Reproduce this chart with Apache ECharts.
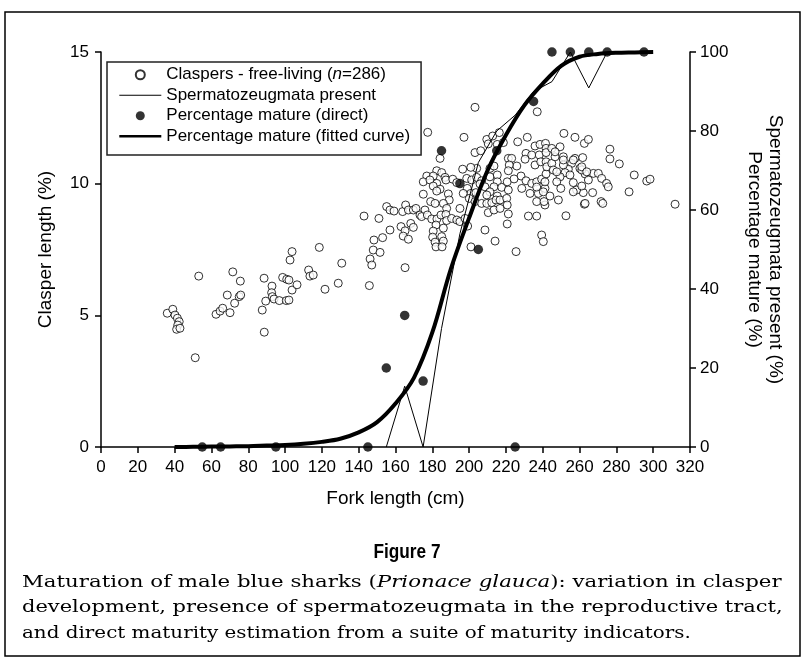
<!DOCTYPE html>
<html>
<head>
<meta charset="utf-8">
<script src="https://cdn.jsdelivr.net/npm/echarts@6/dist/echarts.min.js"></script>
<style>
  html, body { margin: 0; padding: 0; background: #fff; }
  #chart { width: 812px; height: 669px; }
</style>
</head>
<body>
<div id="chart"></div>
<script>
// Clasper length (% of fork length) against fork length (cm), free-living males
const claspers = [
  [36.0,5.08],[39.0,5.23],[40.2,5.01],[41.5,4.89],[42.5,4.76],[41.7,4.63],[41.1,4.47],[42.9,4.51],
  [51.2,3.39],[53.1,6.49],[62.5,5.04],[64.7,5.16],[66.1,5.27],[70.1,5.10],[68.6,5.77],[71.6,6.65],
  [72.6,5.46],[75.1,5.71],[75.9,5.77],[75.7,6.30],[87.6,5.20],[88.7,4.36],[89.5,5.54],[88.6,6.41],
  [92.9,6.11],[92.7,5.86],[93.1,5.71],[94.0,5.62],[96.9,5.56],[98.7,6.44],[100.9,6.37],[102.1,6.34],
  [100.7,5.56],[102.1,5.58],[103.8,5.96],[106.5,6.16],[102.7,7.10],[103.8,7.42],[112.8,6.72],[113.5,6.49],
  [115.3,6.53],
  [118.6,7.58],[130.8,6.98],[142.9,8.77],[151.0,8.68],[155.2,9.13],[157.0,9.00],[159.2,8.96],[163.9,8.94],
  [165.5,9.19],[167.0,9.00],[169.7,9.00],[171.1,9.06],[173.3,8.81],[157.0,8.24],[163.0,8.37],[168.3,8.49],
  [169.7,8.34],[165.2,8.21],[164.2,8.01],[167.0,7.89],[153.0,7.95],[148.3,7.86],[147.9,7.48],[151.6,7.39],
  [146.2,7.14],[147.1,6.91],[165.2,6.81],[121.7,5.99],[128.9,6.22],[145.8,6.13],
  [177.5,11.95],[197.2,11.76],[184.2,10.96],[203.2,12.90],[177.0,10.29],[175.1,10.07],[175.1,9.60],[176.0,9.00],
  [182.4,10.49],[185.1,10.42],[180.5,10.29],[186.9,10.24],[182.4,10.01],[184.2,9.79],[187.4,10.14],[191.1,10.17],
  [193.3,10.04],[178.7,10.14],[180.5,9.91],[182.4,9.72],[196.5,10.55],[198.7,10.20],[199.0,9.82],[200.9,9.63],
  [196.8,9.63],[200.1,9.44],[188.7,9.61],[189.2,9.38],[186.0,9.25],[187.8,9.06],[195.0,9.06],[179.1,9.32],
  [181.5,9.25],[174.2,8.75],[177.3,8.81],[179.7,8.66],[182.5,8.66],[184.7,8.81],[187.4,8.83],[187.8,8.60],
  [190.5,8.68],[193.3,8.62],[195.0,8.56],[182.0,8.43],[186.0,8.31],[180.5,8.20],[185.1,7.99],[180.2,7.97],
  [181.5,7.78],[186.0,7.82],[182.0,7.60],[185.3,7.60],[197.8,8.68],[199.2,8.39],[201.0,7.60],[204.1,10.58],
  [200.9,10.62],[203.2,11.18],[206.3,11.25],[201.4,10.14],[204.1,10.24],[206.8,10.11],[203.7,9.66],[205.9,9.99],
  [208.6,9.88],[203.2,9.32],
  [209.6,11.68],[212.8,11.81],[216.4,11.94],[210.4,11.51],[215.3,11.49],[218.6,11.56],[226.4,11.59],[231.6,11.76],
  [237.0,12.73],[235.8,11.43],[238.5,11.49],[241.5,11.53],[241.8,11.34],[230.9,11.15],[234.0,11.09],[238.1,11.09],
  [241.8,11.18],[230.4,10.93],[221.3,10.96],[223.1,10.96],[225.9,10.67],[221.8,10.71],[235.8,10.71],[238.9,10.83],
  [241.8,10.83],[211.3,10.58],[213.5,10.67],[221.3,10.49],[228.2,10.29],[230.9,10.11],[234.0,10.01],[236.7,10.07],
  [239.4,10.17],[241.8,10.37],[211.3,10.26],[215.3,10.33],[215.3,10.07],[213.5,9.88],[211.3,9.69],[215.3,9.53],
  [217.7,9.86],[220.7,10.07],[221.3,9.76],[228.6,9.82],[233.1,9.63],[237.6,9.63],[241.2,9.82],[241.2,9.19],
  [209.6,9.57],[206.8,9.25],[209.6,9.25],[212.3,9.28],[214.6,9.38],[216.8,9.38],[220.4,9.44],[220.7,9.19],
  [221.3,8.85],[220.7,8.47],[210.4,8.90],[213.5,9.00],[216.8,9.06],[232.2,8.77],[236.7,8.77],[208.6,8.24],
  [214.1,7.82],[239.4,8.05],[240.3,7.80],[225.5,7.42],[236.7,9.32],[240.7,9.32],[224.4,10.18],[236.7,9.87],
  [251.5,11.91],[257.5,11.76],[262.6,11.53],[264.8,11.68],[276.5,11.31],[276.5,10.94],[281.6,10.75],[289.7,10.33],
  [296.5,10.10],[298.3,10.17],[286.9,9.69],[311.9,9.22],[271.7,9.32],[272.6,9.25],[252.6,8.78],[262.6,9.22],
  [267.1,9.66],[262.0,9.66],[267.5,10.39],[270.2,10.39],[272.0,10.20],[274.7,10.01],[275.6,9.88],[263.0,10.37],
  [260.2,10.58],[257.5,10.96],[261.7,10.99],[261.2,10.52],[256.6,10.04],[258.4,9.76],[261.2,9.91],[256.6,9.69],
  [255.7,10.77],[253.9,10.55],[251.2,10.71],[252.1,10.42],[254.8,10.33],[249.4,10.26],[247.6,10.07],[249.8,9.82],
  [248.5,9.38],[243.9,9.53],[240.3,9.69],[241.2,10.07],[242.2,10.64],[244.9,10.77],[246.7,11.02],[249.4,11.40],
  [251.2,11.02],[244.9,11.34],[245.7,10.52],[247.6,10.45],[246.7,11.21],[251.2,10.90],[256.6,10.90],[261.2,10.64],
  [263.9,10.45],[264.8,10.14],[263.0,9.25]
];

// Spermatozeugmata present (%) by 10-cm length class (class midpoints)
const spermLength = [155, 165, 175, 185, 195, 205, 215, 225, 235, 245, 255, 265, 275, 285, 295];
const spermPct    = [0, 15.4, 0, 30, 54, 72, 80, 84, 90, 92.5, 100, 90.9, 100, 100, 100];

// Percentage mature, direct estimate by length class
const matureLength = [55, 65, 95, 145, 155, 165, 175, 185, 195, 205, 215, 225, 235, 245, 255, 265, 275, 295];
const maturePct    = [0, 0, 0, 0, 20, 33.3, 16.7, 75, 66.7, 50, 75, 0, 87.5, 100, 100, 100, 100, 100];

// Fitted maturity ogive
const fitLength = [40, 50, 60, 70, 80, 90, 100, 110, 120, 130, 140, 150, 160, 170, 180, 190, 200, 210, 220, 230, 240, 250, 260, 270, 280, 290, 300];
const fitPct    = [0, 0.05, 0.1, 0.15, 0.2, 0.35, 0.5, 0.8, 1.3, 2.1, 3.7, 6.3, 11, 17.5, 29, 45, 58, 70, 79, 86.5, 92, 96.5, 98.8, 99.5, 99.8, 99.9, 100];

const captionLines = [
  'Maturation of male blue sharks ({i|Prionace glauca}): variation in clasper',
  'development, presence of spermatozeugmata in the reproductive tract,',
  'and direct maturity estimation from a suite of maturity indicators.'
];
// horizontal stretch per caption line (first two lines are set justified)
const captionStretch = [1.217, 1.199, 1.137];

const SANS = '"Liberation Sans", Arial, Helvetica, sans-serif';
const SERIF = '"DejaVu Serif", "Liberation Serif", serif';

const pairs = (xs, ys) => xs.map((x, i) => [x, ys[i]]);

const chart = echarts.init(document.getElementById('chart'), null, { renderer: 'canvas' });

const axisCommon = {
  type: 'value',
  nameLocation: 'middle',
  nameTextStyle: { fontFamily: SANS, fontSize: 19, color: '#000' },
  axisLine: { show: true, onZero: false, lineStyle: { color: '#000', width: 1.5 } },
  axisTick: { show: true, length: 6, lineStyle: { color: '#000', width: 1.5 } },
  axisLabel: { fontFamily: SANS, fontSize: 17, color: '#000' },
  splitLine: { show: false }
};

// line legend entries: keep only the stroke, hide the marker
const noMarker = { color: 'rgba(0,0,0,0)', borderColor: 'rgba(0,0,0,0)', borderWidth: 0 };

chart.setOption({
  animation: false,
  backgroundColor: '#fff',
  grid: { left: 101, right: 122, top: 52, bottom: 222, containLabel: false },
  xAxis: Object.assign({}, axisCommon, {
    min: 0, max: 320, interval: 20,
    name: 'Fork length (cm)', nameGap: 42,
    axisLabel: Object.assign({}, axisCommon.axisLabel, { margin: 12 })
  }),
  yAxis: [
    Object.assign({}, axisCommon, {
      position: 'left', min: 0, max: 15, interval: 5,
      name: 'Clasper length (%)', nameRotate: 90, nameGap: 46,
      axisLabel: Object.assign({}, axisCommon.axisLabel, { margin: 12 })
    }),
    Object.assign({}, axisCommon, {
      position: 'right', min: 0, max: 100, interval: 20,
      name: 'Spermatozeugmata present (%)\nPercentage mature (%)',
      nameRotate: -90, nameGap: 54,
      nameTextStyle: { fontFamily: SANS, fontSize: 19, color: '#000', lineHeight: 21 },
      axisLabel: Object.assign({}, axisCommon.axisLabel, { margin: 10 })
    })
  ],
  legend: {
    orient: 'vertical',
    left: 107, top: 62,
    padding: [4, 11, 10, 11],
    itemWidth: 42, itemHeight: 9, itemGap: 3,
    backgroundColor: '#fff',
    borderColor: '#222', borderWidth: 1.5, borderRadius: 0,
    selectedMode: false,
    textStyle: {
      fontFamily: SANS, fontSize: 17, color: '#000', lineHeight: 17.5,
      rich: { i: { fontFamily: SANS, fontSize: 17, fontStyle: 'italic', color: '#000' } }
    },
    formatter: function (name) {
      return name === 'Claspers - free-living (n=286)' ? 'Claspers - free-living ({i|n}=286)' : name;
    },
    data: [
      { name: 'Claspers - free-living (n=286)', icon: 'circle' },
      { name: 'Spermatozeugmata present', itemStyle: noMarker, lineStyle: { color: '#000', width: 1.2 } },
      { name: 'Percentage mature (direct)', icon: 'circle' },
      { name: 'Percentage mature (fitted curve)', itemStyle: noMarker, lineStyle: { color: '#000', width: 2.6 } }
    ]
  },
  series: [
    {
      name: 'Claspers - free-living (n=286)',
      type: 'scatter', xAxisIndex: 0, yAxisIndex: 0, z: 2,
      symbol: 'circle', symbolSize: 8,
      itemStyle: { color: '#fff', borderColor: '#000', borderWidth: 1 },
      data: claspers
    },
    {
      name: 'Spermatozeugmata present',
      type: 'line', xAxisIndex: 0, yAxisIndex: 1, z: 3,
      symbol: 'none', color: '#000',
      lineStyle: { color: '#000', width: 1 },
      data: pairs(spermLength, spermPct)
    },
    {
      name: 'Percentage mature (fitted curve)',
      type: 'line', xAxisIndex: 0, yAxisIndex: 1, z: 4,
      symbol: 'none', smooth: 0.35, color: '#000',
      lineStyle: { color: '#000', width: 4 },
      data: pairs(fitLength, fitPct)
    },
    {
      name: 'Percentage mature (direct)',
      type: 'scatter', xAxisIndex: 0, yAxisIndex: 1, z: 5,
      symbol: 'circle', symbolSize: 9.5,
      itemStyle: { color: '#000', borderColor: '#000', borderWidth: 0 },
      data: pairs(matureLength, maturePct)
    }
  ],
  graphic: [
    {
      type: 'rect', silent: true, z: 0,
      shape: { x: 5, y: 12, width: 795, height: 644 },
      style: { fill: 'none', stroke: '#000', lineWidth: 1.5 }
    },
    {
      type: 'text', silent: true, x: 407, y: 552, scaleX: 0.86,
      style: {
        text: 'Figure 7', fill: '#000',
        font: 'bold 20px "Liberation Sans", sans-serif',
        align: 'center', verticalAlign: 'middle'
      }
    }
  ].concat(captionLines.map((line, i) => ({
    type: 'text', silent: true, x: 22, y: 582 + i * 25.5, scaleX: captionStretch[i],
    style: {
      text: line, fill: '#000',
      fontFamily: SERIF, fontSize: 17.5,
      align: 'left', verticalAlign: 'middle',
      rich: { i: { fontFamily: SERIF, fontSize: 17.5, fontStyle: 'italic', fill: '#000' } }
    }
  })))
});
</script>
</body>
</html>
